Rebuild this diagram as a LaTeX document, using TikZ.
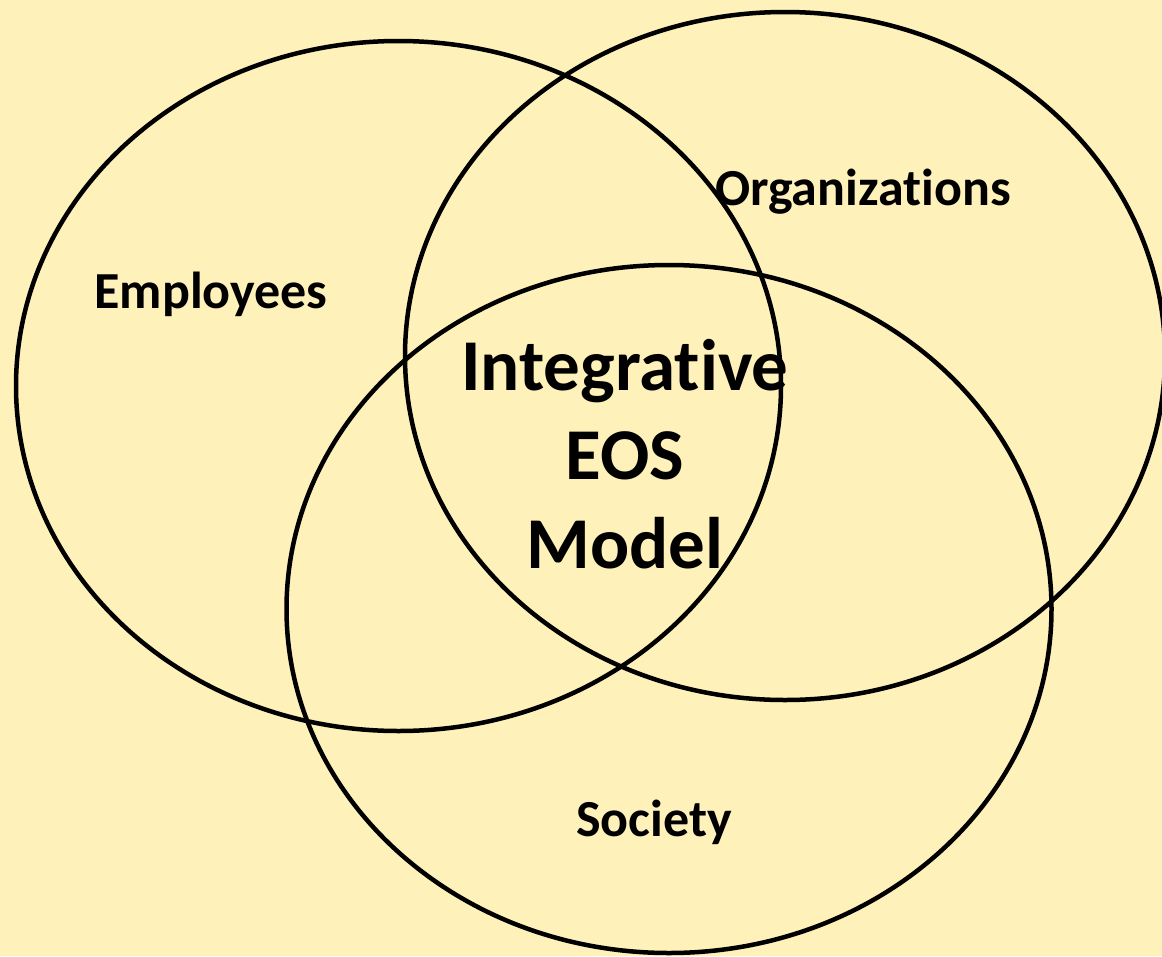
\documentclass[tikz,border=0pt]{standalone}
\usepackage{fontspec}
\setmainfont{Carlito}[Ligatures=NoCommon]
\usepackage{tikz}
\usetikzlibrary{shapes.geometric, positioning}
\definecolor{paper}{RGB}{255,241,186}
\tikzstyle{ring} = [ellipse, draw=black, line width=4.5pt, inner sep=0pt]
\tikzstyle{grouplabel} = [anchor=base, font=\fontsize{52}{62}\selectfont\bfseries]
\tikzstyle{corelabel} = [anchor=base, align=center, font=\fontsize{73}{89}\selectfont\bfseries]

\begin{document}
\begin{tikzpicture}[x=1pt, y=-1pt]
    % Page and background
    \useasboundingbox (0,0) rectangle (1162,956);
    \fill[paper] (0,0) rectangle (1162,956);
    \clip (0,0) rectangle (1162,956);

    % The three overlapping sets
    \node[ring, minimum width=765pt, minimum height=690pt] (emp) at (398.5,386) {};
    \node[ring, minimum width=760pt, minimum height=688pt] (org) at (785,356) {};
    \node[ring, minimum width=765pt, minimum height=688pt] (soc) at (669,609) {};

    % Set labels
    \node[grouplabel] (emplbl) at (211,308) {Employees};
    \node[grouplabel] (orglbl) at (863,205) {Organizations};
    \node[grouplabel] (soclbl) at (654,836) {Society};

    % Centre of the overlap (base sits on the last line)
    \node[corelabel] (core) at (625,568) {Integrative\\EOS\\Model};
\end{tikzpicture}
\end{document}
